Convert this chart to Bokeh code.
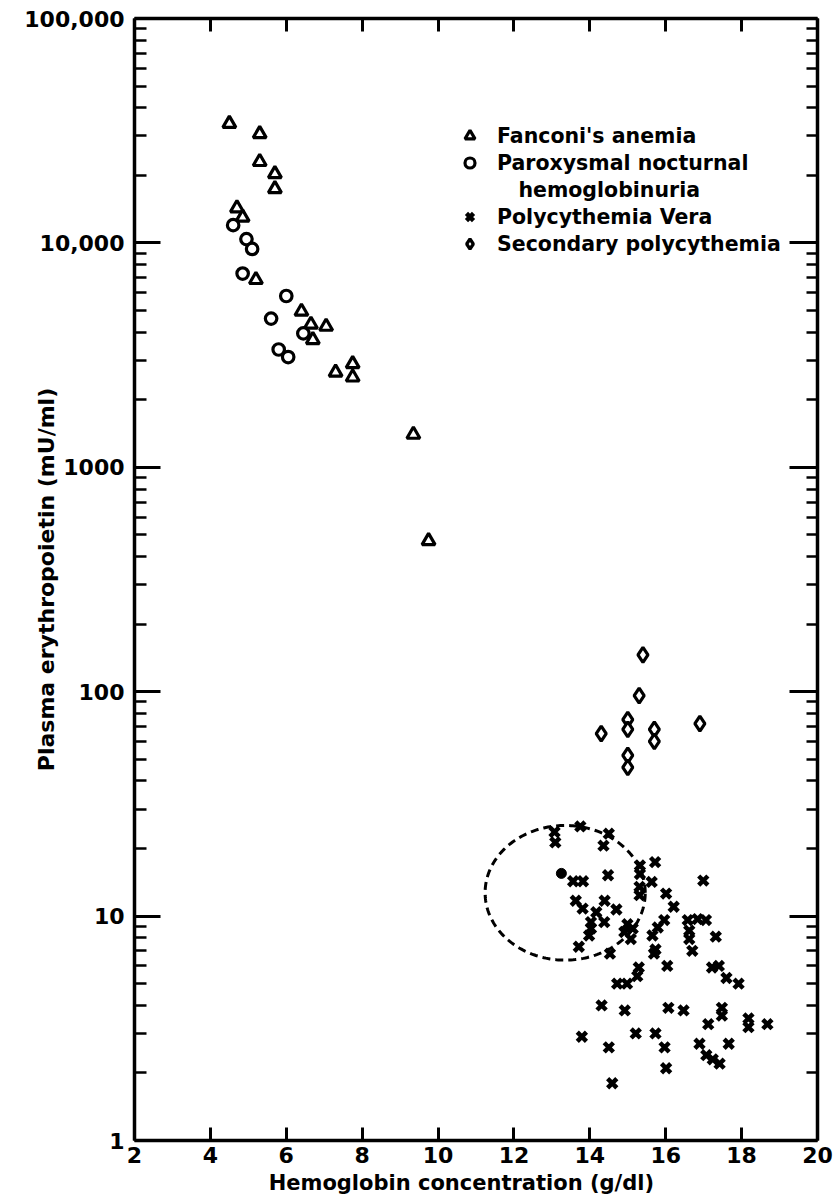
import numpy as np
from bokeh.plotting import figure
from bokeh.models import (LogAxis, LinearAxis, FixedTicker, Legend,
                          LegendItem, Range1d)
from bokeh.embed import file_html
from bokeh.resources import INLINE

FONT = "DejaVu Sans"

# ---------------- data ----------------
fanconi_hb = [4.5, 5.3, 5.3, 5.7, 5.7, 4.7, 4.85, 5.2, 6.4, 6.65, 7.05, 6.7,
              7.3, 7.75, 7.75, 9.35, 9.75]
fanconi_epo = [34000, 30600, 23000, 20300, 17400, 14300, 13000, 6850, 4950,
               4330, 4240, 3700, 2650, 2890, 2520, 1400, 470]

pnh_hb = [4.6, 4.95, 5.1, 4.85, 6.0, 5.6, 6.45, 5.8, 6.05]
pnh_epo = [12000, 10400, 9400, 7300, 5800, 4600, 3950, 3350, 3100]

pv_hb = [13.07, 13.09, 13.75, 14.50, 14.36, 13.56, 13.82, 14.48, 15.32, 15.72,
         15.32, 15.63, 15.31, 15.31, 16.01, 16.21, 16.99, 13.63, 13.81, 14.39,
         14.17, 14.70, 14.38, 14.03, 14.03, 13.98, 14.99, 15.13, 14.91, 15.08,
         13.71, 14.53, 15.96, 15.79, 15.65, 16.58, 16.84, 17.06, 16.62, 16.62,
         16.70, 17.32, 15.73, 15.69, 15.29, 15.25, 16.04, 17.22, 17.40, 17.60,
         17.92, 14.72, 14.98, 14.31, 14.92, 16.07, 16.47, 17.48, 17.48, 17.12,
         18.18, 18.18, 18.68, 13.79, 15.21, 15.73, 14.50, 15.97, 16.89, 17.66,
         17.07, 17.24, 17.42, 16.01, 14.59]
pv_epo = [23.7, 21.3, 25.1, 23.3, 20.6, 14.3, 14.3, 15.2, 16.8, 17.4,
          15.4, 14.2, 13.5, 12.4, 12.6, 11.0, 14.4, 11.7, 10.8, 11.7,
          10.4, 10.7, 9.4, 9.4, 8.8, 8.2, 9.2, 8.8, 8.5, 7.9,
          7.3, 6.8, 9.6, 8.9, 8.2, 9.6, 9.7, 9.6, 8.6, 7.9,
          7.0, 8.1, 7.1, 6.8, 5.9, 5.4, 6.0, 5.9, 6.0, 5.3,
          5.0, 5.0, 5.0, 4.0, 3.8, 3.9, 3.8, 3.9, 3.6, 3.3,
          3.5, 3.2, 3.3, 2.9, 3.0, 3.0, 2.6, 2.6, 2.7, 2.7,
          2.4, 2.3, 2.2, 2.1, 1.8]

secondary_hb = [15.4, 15.3, 15.0, 15.0, 14.3, 15.7, 15.7, 16.9, 15.0, 15.0]
secondary_epo = [146, 96, 75, 68, 65, 68, 60, 72, 52, 46]

normal_mean_hb = [13.25]
normal_mean_epo = [15.5]

# dashed normal-range ellipse (centre, half-width in g/dl, half-height in decades)
ellipse_center_hb = 13.35
ellipse_center_epo = 12.7
ellipse_half_width = 2.11
ellipse_half_height_decades = 0.30

x_ticks = [2, 4, 6, 8, 10, 12, 14, 16, 18, 20]
y_ticks = [1, 10, 100, 1000, 10000, 100000]
y_tick_labels = ["1", "10", "100", "1000", "10,000", "100,000"]
y_minor_ticks = [m * d for d in [1, 10, 100, 1000, 10000] for m in range(2, 10)]

x_title = "Hemoglobin concentration (g/dl)"
y_title = "Plasma erythropoietin (mU/ml)"

legend_labels = ["Fanconi's anemia", "Paroxysmal nocturnal",
                 "\u00a0\u00a0\u00a0hemoglobinuria",
                 "Polycythemia Vera", "Secondary polycythemia"]

# ---------------- figure ----------------
p = figure(width=833, height=1203, x_range=Range1d(2, 20),
           y_range=Range1d(1, 100000), y_axis_type="log",
           output_backend="svg", toolbar_location=None,
           min_border_left=134, min_border_right=16,
           min_border_top=18, min_border_bottom=63)
p.outline_line_color = None
p.grid.visible = False
p.background_fill_color = "white"
p.border_fill_color = "white"


def style_axis(ax, labels=True):
    ax.axis_line_width = 3.5
    ax.axis_line_color = "black"
    ax.major_tick_line_width = 3
    ax.minor_tick_line_width = 2.5
    ax.major_tick_line_color = "black"
    ax.minor_tick_line_color = "black"
    ax.major_tick_out = 0
    ax.minor_tick_out = 0
    ax.major_label_text_font = FONT
    ax.major_label_text_font_style = "bold"
    ax.major_label_text_color = "black"
    ax.axis_label_text_font = FONT
    ax.axis_label_text_font_style = "bold"
    ax.axis_label_text_color = "black"
    if labels:
        ax.major_label_text_font_size = "22px"
        ax.major_label_standoff = 10
    else:
        ax.major_label_text_font_size = "0px"
        ax.major_label_standoff = 0


xt = FixedTicker(ticks=x_ticks, minor_ticks=[])
yt = FixedTicker(ticks=y_ticks, minor_ticks=y_minor_ticks)

xb = p.xaxis[0]
xb.ticker = xt
style_axis(xb)
xb.major_tick_in = 13
xb.major_label_standoff = 6
# trailing no-break spaces nudge the centred title a little to the left
xb.axis_label = x_title + "\u00a0" * 4
xb.axis_label_text_font_size = "21px"
xb.axis_label_standoff = 5

yl = p.yaxis[0]
yl.ticker = yt
style_axis(yl)
yl.major_tick_in = 26
yl.minor_tick_in = 12
yl.major_label_overrides = {t: s for t, s in zip(y_ticks, y_tick_labels)}
yl.axis_label = y_title
yl.axis_label_text_font_size = "22px"
yl.axis_label_standoff = -38

xtop = LinearAxis(ticker=xt)
style_axis(xtop, labels=False)
xtop.major_tick_in = 13
xtop.major_label_overrides = {t: "" for t in x_ticks}
p.add_layout(xtop, "above")

yr = LogAxis(ticker=yt)
style_axis(yr, labels=False)
yr.major_tick_in = 28
yr.minor_tick_in = 11
yr.major_label_overrides = {t: "" for t in y_ticks}
p.add_layout(yr, "right")

# ---------------- marks ----------------
r_fan = p.scatter(fanconi_hb, fanconi_epo, marker="triangle", size=13,
                  fill_color="white", line_color="black", line_width=3.2)
r_pnh = p.scatter(pnh_hb, pnh_epo, marker="circle", size=11.5,
                  fill_color="white", line_color="black", line_width=3.2)
r_pv = p.scatter(pv_hb, pv_epo, marker="x", size=13,
                 line_color="black", line_width=4.5)
r_sec = p.scatter(secondary_hb, secondary_epo, marker="diamond", size=15,
                  fill_color="white", line_color="black", line_width=3.2)
p.scatter(normal_mean_hb, normal_mean_epo, marker="circle", size=10,
          fill_color="black", line_color="black")
r_blank = p.scatter(x=[], y=[], marker="circle", fill_alpha=0, line_alpha=0)

t = np.linspace(0, 2 * np.pi, 240)
ell_x = ellipse_center_hb + ellipse_half_width * np.cos(t)
ell_y = 10 ** (np.log10(ellipse_center_epo) + ellipse_half_height_decades * np.sin(t))
p.line(ell_x, ell_y, line_color="black", line_width=3, line_dash="8 5")

# ---------------- legend ----------------
legend = Legend(items=[
    LegendItem(label=legend_labels[0], renderers=[r_fan]),
    LegendItem(label=legend_labels[1], renderers=[r_pnh]),
    LegendItem(label=legend_labels[2], renderers=[r_blank]),
    LegendItem(label=legend_labels[3], renderers=[r_pv]),
    LegendItem(label=legend_labels[4], renderers=[r_sec]),
], location=(323, 884), glyph_width=25, glyph_height=25, label_standoff=15,
    spacing=2, padding=0, margin=0, border_line_color=None,
    background_fill_alpha=0, label_text_font=FONT,
    label_text_font_style="bold", label_text_font_size="20.5px",
    label_text_color="black", label_height=25)
p.add_layout(legend)

open("out.html", "w").write(file_html(p, INLINE))
